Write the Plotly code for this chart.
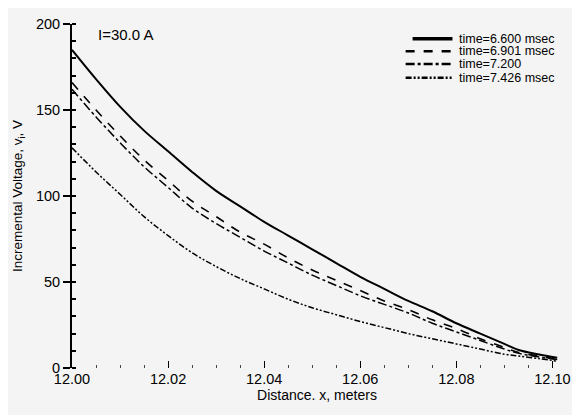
import plotly.graph_objects as go

x = [12.000, 12.005, 12.010, 12.015, 12.020, 12.025, 12.030, 12.035, 12.040, 12.045, 12.050,
     12.055, 12.060, 12.065, 12.070, 12.075, 12.080, 12.085, 12.090, 12.093, 12.097, 12.101]
v_6600 = [185, 168, 152, 138, 126, 114, 103, 94, 85, 77, 69, 61, 53, 46, 39, 33, 26, 20, 14, 10.5, 8, 6]
v_6901 = [166, 150, 135, 121, 109, 97, 88, 79, 72, 64, 57, 51, 45, 39, 34, 28, 23, 17, 12, 9, 7, 5]
v_7200 = [162, 146, 131, 117, 105, 93, 84, 76, 68, 61, 54, 48, 42, 37, 32, 26, 21, 16, 11, 8.5, 6.5, 5]
v_7426 = [128, 114, 101, 88, 77, 67, 59, 52, 46, 40, 35, 31, 27, 23.5, 20, 17, 14, 11, 8, 7, 5.5, 4]
names = ["time=6.600 msec", "time=6.901 msec", "time=7.200", "time=7.426 msec"]
series = [v_6600, v_6901, v_7200, v_7426]
dashes = ["solid", "dash", "dashdot", "6px,2px,2px,2px,2px,2px"]
widths = [2, 1.6, 1.5, 1.5]
legend_widths = [3.5, 2.5, 2.5, 2.5]

fig = go.Figure()
for n, s, d, w in zip(names, series, dashes, widths):
    fig.add_trace(go.Scatter(x=x, y=s, mode="lines", name=n, showlegend=False,
                             line=dict(color="black", dash=d, width=w,
                                       shape="spline", smoothing=1)))

# manual compact legend (paper coordinates); page has an 8px body margin
W, H = 572, 407
l, r, t, b = 62, 18, 8, 47
pw, ph = W - l - r, H - t - b
def px(xp):
    return (xp - 8 - l) / pw
def py(yp):
    return 1 - (yp - 8 - t) / ph

leg_y = [31, 44, 57, 71]
leg_x0 = [412, 405, 405, 405]
for i, (n, d, lw) in enumerate(zip(names, dashes, legend_widths)):
    fig.add_shape(type="line", xref="paper", yref="paper",
                  x0=px(leg_x0[i]), x1=px(452), y0=py(leg_y[i]), y1=py(leg_y[i]),
                  line=dict(color="black", width=lw, dash=d))
    fig.add_annotation(xref="paper", yref="paper", x=px(457), y=py(leg_y[i]),
                       text=n, showarrow=False, xanchor="left", yanchor="middle",
                       font=dict(size=12.5, color="black"))

fig.add_annotation(x=px(94), y=py(27), xref="paper", yref="paper", text="I=30.0 A",
                   showarrow=False, xanchor="left", yanchor="middle",
                   font=dict(size=15, color="black"))

fig.update_layout(
    width=W, height=H,
    margin=dict(l=l, r=r, t=t, b=b),
    paper_bgcolor="#f4f4f4", plot_bgcolor="#f4f4f4",
    font=dict(family="Liberation Sans, Arial, sans-serif", color="black", size=14),
    showlegend=False,
    xaxis=dict(range=[12.0, 12.102], tickvals=[12.00, 12.02, 12.04, 12.06, 12.08, 12.10],
               ticktext=["12.00", "12.02", "12.04", "12.06", "12.08", "12.10"],
               tickfont=dict(size=14.5),
               showgrid=False, zeroline=False, showline=False,
               ticks="inside", ticklen=7, tickcolor="black", tickwidth=1,
               minor=dict(ticks="inside", dtick=0.005, tick0=12.0, ticklen=3, tickcolor="#444"),
               title=dict(text="Distance. x, meters", font=dict(size=14), standoff=4)),
    yaxis=dict(range=[0, 200], tickvals=[0, 50, 100, 150, 200],
               tickfont=dict(size=14.5),
               showgrid=False, zeroline=False, showline=True, linecolor="black", linewidth=2,
               ticks="outside", ticklen=7, tickcolor="black", tickwidth=1.5,
               minor=dict(ticks="inside", dtick=10, ticklen=4, tickcolor="black"),
               title=dict(text="Incremental Voltage, v<sub>i</sub>, V", font=dict(size=13.5), standoff=10)),
)

fig.write_html("out.html")
